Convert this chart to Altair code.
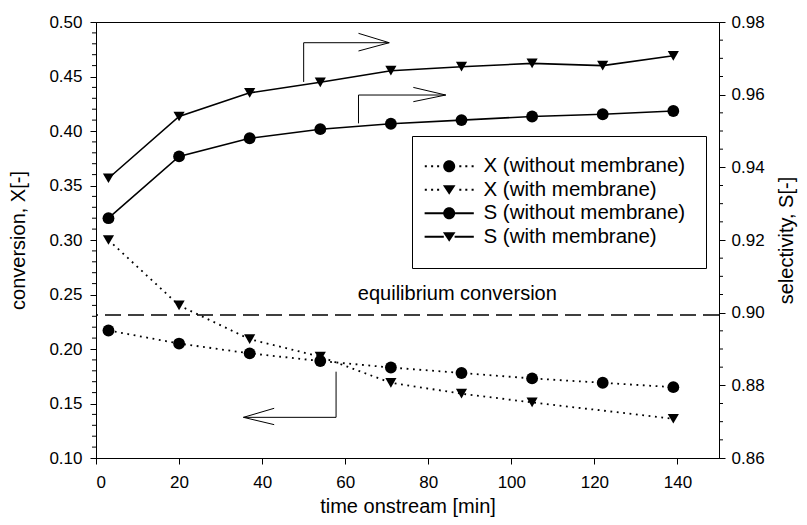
import altair as alt
import pandas as pd

FONT = "Liberation Sans"
W, H = 623, 436

# ---- data ----
time = [3, 20, 37, 54, 71, 88, 105, 122, 139]
x_without = [0.217, 0.205, 0.196, 0.189, 0.183, 0.178, 0.173, 0.169, 0.165]
x_with = [0.300, 0.240, 0.209, 0.193, 0.169, 0.159, 0.151, None, 0.136]
s_without = [0.926, 0.943, 0.948, 0.9505, 0.952, 0.953, 0.954, 0.9546, 0.9555]
s_with = [0.937, 0.954, 0.9605, 0.9634, 0.9666, 0.9677, 0.9686, 0.968, 0.9707]

legend_labels = ["X (without membrane)", "X (with membrane)",
                 "S (without membrane)", "S (with membrane)"]

equilibrium = 0.2312
equilibrium_label = "equilibrium conversion"
equilibrium_label_pos = [87, 0.2505]

# arrow annotation segments (data units, left axis)
seg_x1 = [50.0, 50.0, 63.2, 63.2, 63.2, 63.2, 76.4, 76.4, 57.8, 57.8, 42.9, 42.9]
seg_y1 = [0.445, 0.481, 0.4896, 0.4734, 0.407, 0.433, 0.440, 0.4269, 0.1792, 0.1373, 0.1456, 0.1306]
seg_x2 = [50.0, 70.6, 70.6, 70.6, 63.2, 84.2, 84.2, 84.2, 57.8, 35.5, 35.5, 35.5]
seg_y2 = [0.481, 0.481, 0.481, 0.481, 0.433, 0.433, 0.433, 0.433, 0.1373, 0.1373, 0.1373, 0.1373]

x_ticks = [0, 20, 40, 60, 80, 100, 120, 140]
left_ticks = [0.10, 0.15, 0.20, 0.25, 0.30, 0.35, 0.40, 0.45, 0.50]
right_ticks = [0.86, 0.88, 0.90, 0.92, 0.94, 0.96, 0.98]
left_minor = [round(0.10 + 0.01 * i, 2) for i in range(41) if i % 5]
right_minor = [round(0.86 + 0.005 * i, 3) for i in range(25) if i % 4]

# ---- tables ----
dfx = pd.DataFrame({
    "t": time * 2,
    "v": x_without + x_with,
    "series": [legend_labels[0]] * 9 + [legend_labels[1]] * 9,
}).dropna()
dfs = pd.DataFrame({
    "t": time * 2,
    "v": s_without + s_with,
    "series": [legend_labels[2]] * 9 + [legend_labels[3]] * 9,
})
dseg = pd.DataFrame({"t": seg_x1, "v": seg_y1, "t2": seg_x2, "v2": seg_y2})
dlm = pd.DataFrame({"v": left_minor})
drm = pd.DataFrame({"v": right_minor})
dleg = pd.DataFrame({"t": [None] * 4, "v": [None] * 4, "series": legend_labels})
deq = pd.DataFrame({"v": [equilibrium]})
dtxt = pd.DataFrame({"t": [equilibrium_label_pos[0]], "v": [equilibrium_label_pos[1]],
                     "label": [equilibrium_label]})

# ---- legend symbol paths ----
def f(v):
    return f"{v:.3f}"

C = 1.16

def dots():
    p = ""
    s = 0.17
    for d in (-3.9, -2.85, -1.85, 1.85, 2.85, 3.9):
        cx = C + d
        p += f"M{f(cx - s)},{f(-s)}L{f(cx + s)},{f(-s)}L{f(cx + s)},{f(s)}L{f(cx - s)},{f(s)}Z"
    return p

def solid():
    h = 0.16
    p = ""
    for a, b in ((C - 4.1, C - 0.9), (C + 0.9, C + 4.1)):
        p += f"M{f(a)},{f(-h)}L{f(b)},{f(-h)}L{f(b)},{f(h)}L{f(a)},{f(h)}Z"
    return p

def circle():
    return f"M{f(C + 1)},0A1,1 0 1,1 {f(C - 1)},0A1,1 0 1,1 {f(C + 1)},0Z"

def tri():
    return f"M{f(C - 1.05)},-0.75L{f(C + 1.05)},-0.75L{f(C)},0.85Z"

legend_paths = [dots() + circle(), dots() + tri(), solid() + circle(), solid() + tri()]

# ---- encodings ----
xscale = alt.Scale(domain=[0, 150], nice=False, zero=False)
lscale = alt.Scale(domain=[0.10, 0.50], nice=False, zero=False)
rscale = alt.Scale(domain=[0.86, 0.98], nice=False, zero=False)

x_axis = alt.Axis(values=x_ticks, title="time onstream [min]", labelPadding=10,
                  titlePadding=6, format="d")
l_axis = alt.Axis(values=left_ticks, format=".2f", title="conversion, X[-]",
                  labelPadding=8, titlePadding=20, titleAngle=270)
r_axis = alt.Axis(values=right_ticks, format=".2f", title="selectivity, S[-]",
                  orient="right", labelPadding=6, titlePadding=32, titleAngle=270)

X = alt.X("t:Q", scale=xscale, axis=x_axis)
YL = alt.Y("v:Q", scale=lscale, axis=l_axis)
YR = alt.Y("v:Q", scale=rscale, axis=r_axis)

# left group
x_lines = alt.Chart(dfx).mark_line(color="black", strokeWidth=1.8, strokeDash=[1.8, 4.6],
                                   strokeCap="butt").encode(x=X, y=YL, detail="series:N")
x_pts_c = alt.Chart(dfx).transform_filter(alt.datum.series == legend_labels[0]).mark_point(
    shape="circle", filled=True, color="black", size=140, opacity=1).encode(x=X, y=YL)
x_pts_t = alt.Chart(dfx).transform_filter(alt.datum.series == legend_labels[1]).mark_point(
    shape="triangle-down", filled=True, color="black", size=125, opacity=1).encode(x=X, y=YL)
eq_rule = alt.Chart(deq).mark_rule(color="black", strokeWidth=1.3, strokeDash=[16, 7]).encode(y=YL)
eq_text = alt.Chart(dtxt).mark_text(font=FONT, fontSize=20, color="black", baseline="middle",
                                    align="center").encode(x=X, y=YL, text="label:N")
arrows = alt.Chart(dseg).mark_rule(color="black", strokeWidth=1).encode(
    x=X, y=YL, x2="t2:Q", y2="v2:Q")
l_minor = alt.Chart(dlm).mark_rule(color="black", strokeWidth=1).encode(
    y=YL, x=alt.value(-4), x2=alt.value(0))
legend_layer = alt.Chart(dleg).mark_point(filled=True, color="black", size=144, opacity=1).encode(
    x=X, y=YL,
    shape=alt.Shape("series:N", scale=alt.Scale(domain=legend_labels, range=legend_paths),
                    legend=alt.Legend(title=None, orient="none", legendX=316, legendY=114,
                                      padding=20, strokeColor="black", fillColor="white",
                                      labelFont=FONT, labelFontSize=20.5, labelColor="black",
                                      labelOffset=31, labelLimit=500, rowPadding=2.5,
                                      symbolSize=144, symbolFillColor="black",
                                      symbolStrokeColor="black", symbolStrokeWidth=0,
                                      symbolOpacity=1)))

left = alt.layer(x_lines, x_pts_c, x_pts_t, eq_rule, eq_text, arrows, l_minor, legend_layer)

# right group
s_lines = alt.Chart(dfs).mark_line(color="black", strokeWidth=1.6).encode(
    x=X, y=YR, detail="series:N")
s_pts_c = alt.Chart(dfs).transform_filter(alt.datum.series == legend_labels[2]).mark_point(
    shape="circle", filled=True, color="black", size=140, opacity=1).encode(x=X, y=YR)
s_pts_t = alt.Chart(dfs).transform_filter(alt.datum.series == legend_labels[3]).mark_point(
    shape="triangle-down", filled=True, color="black", size=125, opacity=1).encode(x=X, y=YR)
r_minor = alt.Chart(drm).mark_rule(color="black", strokeWidth=1).encode(
    y=YR, x=alt.value(W), x2=alt.value(W + 4))

right = alt.layer(s_lines, s_pts_c, s_pts_t, r_minor)

chart = alt.layer(left, right).resolve_scale(y="independent").properties(
    width=W, height=H,
    padding={"left": 88, "top": 14, "right": 80, "bottom": 59},
    autosize=alt.AutoSizeParams(type="none"),
).configure_view(stroke="black", strokeWidth=1).configure_axis(
    labelFont=FONT, titleFont=FONT, labelFontSize=17, titleFontSize=20,
    titleFontWeight="normal", labelColor="black", titleColor="black",
    tickColor="black", domainColor="black", tickSize=6, tickWidth=1, grid=False,
)

chart.save("out.html", embed_options={"renderer": "svg", "actions": False})
